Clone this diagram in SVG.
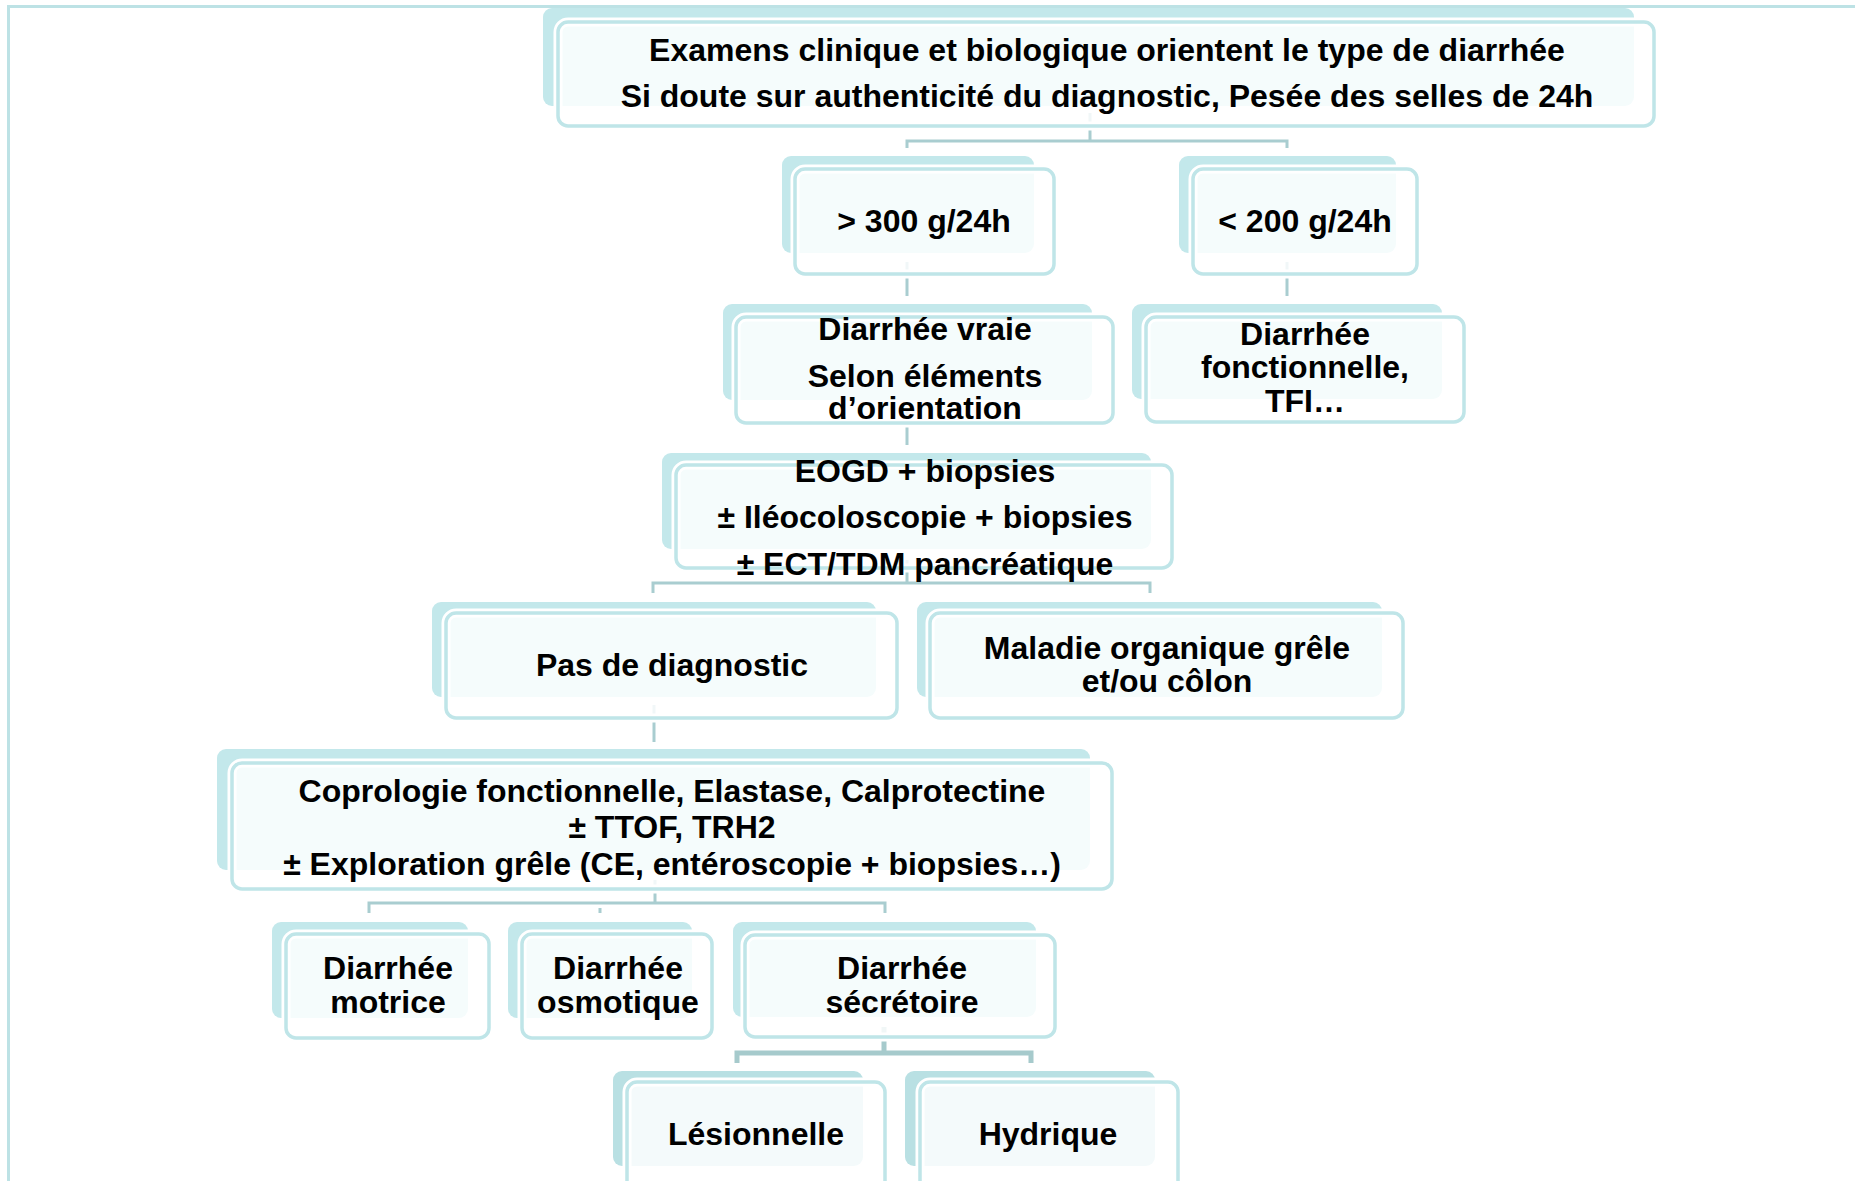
<svg xmlns="http://www.w3.org/2000/svg" width="1855" height="1181" viewBox="0 0 1855 1181">
<style>
.bg{fill:#fff}
.frame{fill:none;stroke:#bde2e5;stroke-width:3}
.back{fill:#c3e8eb}
.back2{fill:#b9e0e3}
.front{fill:#fff;fill-opacity:.84;stroke:#fff;stroke-width:9}
.edge{fill:none;stroke:#bfe5e8;stroke-width:3.5}
.lbl{font-family:"Liberation Sans",Arial,Helvetica,sans-serif;font-weight:bold;font-size:32px;fill:#000;text-anchor:middle}
.c{fill:none;stroke:#a9cdd0;stroke-width:3}
.ct{fill:none;stroke:#a6cacc;stroke-width:5}
</style>
<rect class="bg" x="0" y="0" width="1855" height="1181"/>
<rect class="frame" x="8.5" y="6.5" width="1900" height="1300"/>

<g id="connectors">
<path class="c" d="M1090 113V141M907 148V141H1287V148"/>
<path class="c" d="M907 262V296"/>
<path class="c" d="M1287 262V296"/>
<path class="c" d="M907 410V445"/>
<path class="c" d="M907 560V583M653 593V583H1150V593"/>
<path class="c" d="M654 705V742"/>
<path class="c" d="M655 880V903M369 913V903H885V913M600 908V913"/>
<path class="ct" d="M884 1027V1053M737 1063V1053H1031V1063"/>
</g>

<g id="n1">
<rect class="back" x="543" y="8" width="1091" height="98" rx="9"/>
<rect class="front" x="558" y="22" width="1096" height="104" rx="10"/>
<rect class="edge" x="558" y="22" width="1096" height="104" rx="10"/>
<text class="lbl"><tspan x="1107" y="61">Examens clinique et biologique orientent le type de diarrhée</tspan><tspan x="1107" y="107">Si doute sur authenticité du diagnostic, Pesée des selles de 24h</tspan></text>
</g>

<g id="n2">
<rect class="back" x="782" y="156" width="252" height="97" rx="9"/>
<rect class="front" x="795" y="169" width="259" height="105" rx="10"/>
<rect class="edge" x="795" y="169" width="259" height="105" rx="10"/>
<text class="lbl" x="924" y="232">&gt; 300 g/24h</text>
</g>

<g id="n3">
<rect class="back" x="1179" y="156" width="217" height="97" rx="9"/>
<rect class="front" x="1193" y="169" width="224" height="105" rx="10"/>
<rect class="edge" x="1193" y="169" width="224" height="105" rx="10"/>
<text class="lbl" x="1305" y="232">&lt; 200 g/24h</text>
</g>

<g id="n4">
<rect class="back" x="723" y="304" width="369" height="96" rx="9"/>
<rect class="front" x="736" y="317" width="377" height="106" rx="10"/>
<rect class="edge" x="736" y="317" width="377" height="106" rx="10"/>
<text class="lbl"><tspan x="925" y="340">Diarrhée vraie</tspan><tspan x="925" y="387">Selon éléments</tspan><tspan x="925" y="419">d’orientation</tspan></text>
</g>

<g id="n5">
<rect class="back" x="1132" y="304" width="310" height="95" rx="9"/>
<rect class="front" x="1146" y="317" width="318" height="105" rx="10"/>
<rect class="edge" x="1146" y="317" width="318" height="105" rx="10"/>
<text class="lbl"><tspan x="1305" y="345">Diarrhée</tspan><tspan x="1305" y="378">fonctionnelle,</tspan><tspan x="1305" y="412">TFI…</tspan></text>
</g>

<g id="n6">
<rect class="back" x="662" y="453" width="489" height="96" rx="9"/>
<rect class="front" x="676" y="465" width="496" height="103" rx="10"/>
<rect class="edge" x="676" y="465" width="496" height="103" rx="10"/>
<text class="lbl"><tspan x="925" y="482">EOGD + biopsies</tspan><tspan x="925" y="528">± Iléocoloscopie + biopsies</tspan><tspan x="925" y="575">± ECT/TDM pancréatique</tspan></text>
</g>

<g id="n7">
<rect class="back" x="432" y="602" width="444" height="95" rx="9"/>
<rect class="front" x="446" y="613" width="451" height="105" rx="10"/>
<rect class="edge" x="446" y="613" width="451" height="105" rx="10"/>
<text class="lbl" x="672" y="676">Pas de diagnostic</text>
</g>

<g id="n8">
<rect class="back" x="917" y="602" width="465" height="95" rx="9"/>
<rect class="front" x="930" y="613" width="473" height="105" rx="10"/>
<rect class="edge" x="930" y="613" width="473" height="105" rx="10"/>
<text class="lbl"><tspan x="1167" y="659">Maladie organique grêle</tspan><tspan x="1167" y="692">et/ou côlon</tspan></text>
</g>

<g id="n9">
<rect class="back" x="217" y="749" width="873" height="121" rx="9"/>
<rect class="front" x="232" y="763" width="880" height="126" rx="10"/>
<rect class="edge" x="232" y="763" width="880" height="126" rx="10"/>
<text class="lbl"><tspan x="672" y="802">Coprologie fonctionnelle, Elastase, Calprotectine</tspan><tspan x="672" y="838">± TTOF, TRH2</tspan><tspan x="672" y="875">± Exploration grêle (CE, entéroscopie + biopsies…)</tspan></text>
</g>

<g id="n10">
<rect class="back" x="272" y="922" width="196" height="96" rx="9"/>
<rect class="front" x="286" y="934" width="203" height="104" rx="10"/>
<rect class="edge" x="286" y="934" width="203" height="104" rx="10"/>
<text class="lbl"><tspan x="388" y="979">Diarrhée</tspan><tspan x="388" y="1013">motrice</tspan></text>
</g>

<g id="n11">
<rect class="back" x="508" y="922" width="184" height="96" rx="9"/>
<rect class="front" x="522" y="934" width="190" height="104" rx="10"/>
<rect class="edge" x="522" y="934" width="190" height="104" rx="10"/>
<text class="lbl"><tspan x="618" y="979">Diarrhée</tspan><tspan x="618" y="1013">osmotique</tspan></text>
</g>

<g id="n12">
<rect class="back" x="733" y="922" width="303" height="95" rx="9"/>
<rect class="front" x="745" y="935" width="310" height="102" rx="10"/>
<rect class="edge" x="745" y="935" width="310" height="102" rx="10"/>
<text class="lbl"><tspan x="902" y="979">Diarrhée</tspan><tspan x="902" y="1013">sécrétoire</tspan></text>
</g>

<g id="n13">
<rect class="back2" x="613" y="1071" width="250" height="95" rx="9"/>
<rect class="front" x="627" y="1082" width="258" height="110" rx="10"/>
<rect class="edge" x="627" y="1082" width="258" height="110" rx="10"/>
<text class="lbl" x="756" y="1145">Lésionnelle</text>
</g>

<g id="n14">
<rect class="back2" x="905" y="1071" width="250" height="95" rx="9"/>
<rect class="front" x="920" y="1082" width="258" height="110" rx="10"/>
<rect class="edge" x="920" y="1082" width="258" height="110" rx="10"/>
<text class="lbl" x="1048" y="1145">Hydrique</text>
</g>
</svg>
